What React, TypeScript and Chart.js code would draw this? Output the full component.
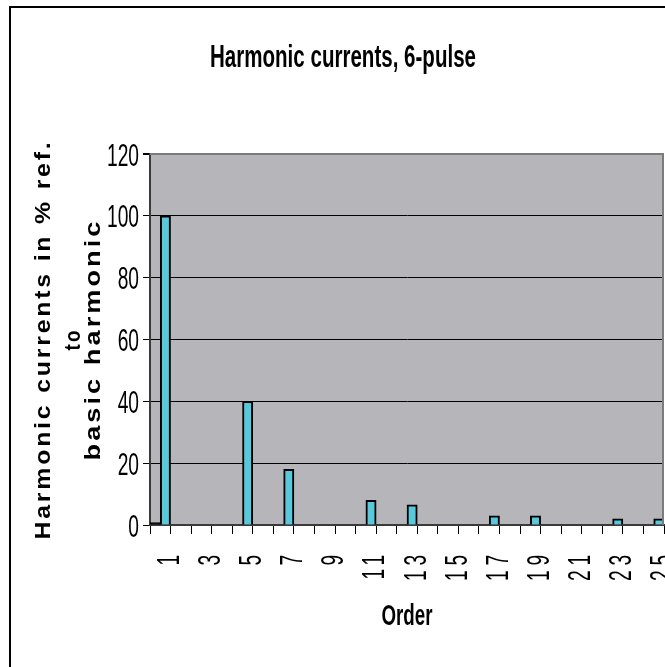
import { useEffect, useRef } from 'react';
import { Chart, registerables } from 'chart.js';

Chart.register(...registerables);

// Harmonic order (category axis)
const orders = [
  '1', '2', '3', '4', '5', '6', '7', '8', '9', '10', '11', '12', '13',
  '14', '15', '16', '17', '18', '19', '20', '21', '22', '23', '24', '25',
];

// Small reference series drawn in black next to the fundamental
const baseCurrent = [
  0.8, 0, 0, 0, 0, 0, 0, 0, 0, 0, 0, 0, 0,
  0, 0, 0, 0, 0, 0, 0, 0, 0, 0, 0, 0,
];

// Harmonic currents in % of the fundamental
const harmonicCurrent = [
  100, 0, 0, 0, 40, 0, 18, 0, 0, 0, 8, 0, 6.5,
  0, 0, 0, 3, 0, 3, 0, 0, 0, 2, 0, 2,
];

const yMin = 0;
const yMax = 120;
const yStep = 20;

const titleText = 'Harmonic currents, 6-pulse';
const yTitleLines = ['Harmonic currents in % ref.', 'to', 'basic harmonic'];
const xTitleText = 'Order';

const FONT = '"Liberation Sans", Arial, sans-serif';
const PLOT_BG = '#b5b5ba';
const BAR_CYAN = '#58c8da';
const PLOT_EDGE = '#7b7b7b';

type TextOpts = {
  x: number;
  y: number;
  font: string;
  rot?: number;
  align?: CanvasTextAlign;
  sx?: number;
  sy?: number;
  spacing?: number;
  fit?: number;
};

// Draws text with an independent scale along and across the text direction.
function drawText(ctx: CanvasRenderingContext2D, text: string, o: TextOpts) {
  ctx.save();
  ctx.font = o.font;
  (ctx as any).letterSpacing = `${o.spacing ?? 0}px`;
  ctx.textAlign = o.align ?? 'left';
  ctx.textBaseline = 'alphabetic';
  let sx = o.sx ?? 1;
  if (o.fit) sx = o.fit / ctx.measureText(text).width;
  ctx.translate(o.x, o.y);
  if (o.rot) ctx.rotate(o.rot);
  ctx.scale(sx, o.sy ?? 1);
  ctx.fillStyle = '#000';
  ctx.fillText(text, 0, 0);
  ctx.restore();
}

const decorations = {
  id: 'decorations',
  beforeDraw(chart: any) {
    const { ctx, chartArea: a, width, height } = chart;
    ctx.save();
    ctx.fillStyle = '#fff';
    ctx.fillRect(0, 0, width, height);
    // plot area fill
    ctx.fillStyle = PLOT_BG;
    ctx.fillRect(a.left, a.top, a.right - a.left, a.bottom - a.top);
    // outer chart frame
    ctx.strokeStyle = '#000';
    ctx.lineWidth = 2;
    ctx.beginPath();
    ctx.moveTo(10, height + 10);
    ctx.lineTo(10, 7);
    ctx.lineTo(width + 10, 7);
    ctx.stroke();
    ctx.restore();
  },
  afterDraw(chart: any) {
    const { ctx, chartArea: a } = chart;
    const xs = chart.scales.x;
    const ys = chart.scales.y;

    // plot area top / right edge
    ctx.save();
    ctx.strokeStyle = PLOT_EDGE;
    ctx.lineWidth = 2;
    ctx.beginPath();
    ctx.moveTo(a.left, a.top);
    ctx.lineTo(a.right - 1, a.top);
    ctx.lineTo(a.right - 1, a.bottom);
    ctx.stroke();
    ctx.restore();

    // title
    drawText(ctx, titleText, {
      x: 343, y: 67, font: `bold 32px ${FONT}`, align: 'center', fit: 266,
    });

    // y tick labels
    ys.ticks.forEach((t: any) => {
      const py = ys.getPixelForValue(t.value);
      drawText(ctx, String(t.value), {
        x: 139, y: py + 11.5, font: `32px ${FONT}`, align: 'right', sx: 0.6,
      });
    });

    // x tick labels (every other order)
    orders.forEach((label, i) => {
      if (i % 2 !== 0) return;
      const px = xs.getPixelForValue(i);
      drawText(ctx, label, {
        x: px + 18.5, y: 550, font: `32px ${FONT}`, align: 'right',
        rot: -Math.PI / 2, sx: 0.6, spacing: 8,
      });
    });

    // y axis title, three lines
    const cy = (a.top + a.bottom) / 2;
    const yTitleBase = [50, 80, 100];
    const yTitleLen = [400, 22, 242];
    yTitleLines.forEach((line, i) => {
      drawText(ctx, line, {
        x: yTitleBase[i], y: cy, font: `bold 22px ${FONT}`, align: 'center',
        rot: -Math.PI / 2, spacing: 2.5, fit: yTitleLen[i],
      });
    });

    // x axis title
    drawText(ctx, xTitleText, {
      x: (a.left + a.right) / 2, y: 625, font: `bold 29px ${FONT}`, align: 'center', fit: 51,
    });
  },
};

export default function App() {
  const ref = useRef<HTMLCanvasElement>(null);

  useEffect(() => {
    const canvas = ref.current;
    if (!canvas) return;
    const chart = new Chart(canvas, {
      type: 'bar',
      data: {
        labels: orders,
        datasets: [
          {
            label: 'Base',
            data: baseCurrent,
            backgroundColor: '#000',
            borderColor: '#000',
            borderWidth: 1,
            barPercentage: 1,
            categoryPercentage: 1,
          },
          {
            label: 'Harmonic currents',
            data: harmonicCurrent,
            backgroundColor: BAR_CYAN,
            borderColor: '#000',
            borderWidth: 2,
            barPercentage: 1,
            categoryPercentage: 1,
          },
        ],
      },
      options: {
        responsive: false,
        animation: false,
        devicePixelRatio: 1,
        layout: { padding: { top: 154, right: 36, bottom: 0, left: 0 } },
        plugins: {
          legend: { display: false },
          title: { display: false },
          tooltip: { enabled: false },
        },
        scales: {
          x: {
            afterFit: (s: any) => { s.height = 142; },
            grid: {
              offset: true,
              drawOnChartArea: false,
              color: '#000',
              tickLength: 9,
              lineWidth: 1,
            },
            border: { color: '#3a3a3a', width: 2 },
            ticks: { display: false },
          },
          y: {
            min: yMin,
            max: yMax,
            afterFit: (s: any) => { s.width = 150; },
            ticks: { display: false, stepSize: yStep },
            grid: {
              color: (c: any) => (c.tick && c.tick.value === yMax ? PLOT_EDGE : '#000'),
              lineWidth: (c: any) => (c.tick && c.tick.value === yMax ? 2 : 1),
              tickColor: '#000',
              tickLength: 7,
            },
            border: { color: '#3a3a3a', width: 2 },
          },
        },
      },
      plugins: [decorations],
    });
    return () => chart.destroy();
  }, []);

  return (
    <div
      style={{
        position: 'fixed', left: 0, top: 0, width: 665, height: 667,
        overflow: 'hidden', background: '#fff',
      }}
    >
      <canvas
        ref={ref}
        width={700}
        height={667}
        style={{ position: 'absolute', left: 0, top: 0, width: 700, height: 667 }}
      />
    </div>
  );
}
